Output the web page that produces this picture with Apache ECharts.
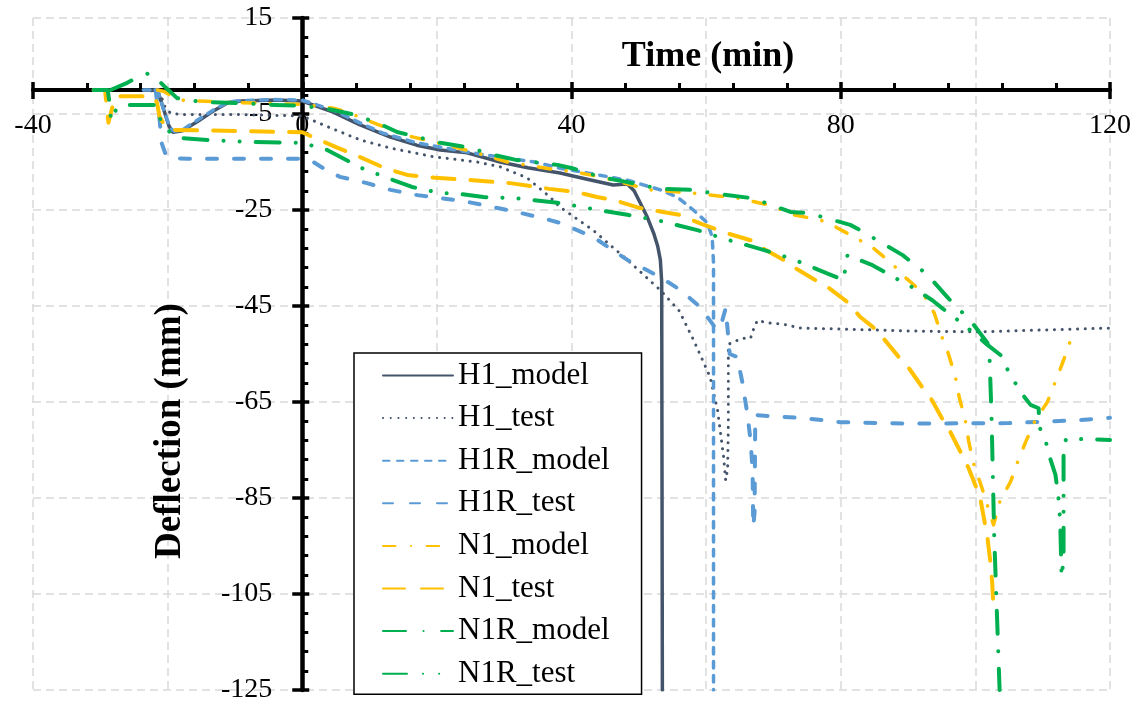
<!DOCTYPE html>
<html>
<head>
<meta charset="utf-8">
<script src="https://cdn.jsdelivr.net/npm/echarts@6/dist/echarts.min.js"></script>
<style>
  html, body { margin: 0; padding: 0; background: #fff; }
  #chart { width: 1145px; height: 705px; }
</style>
</head>
<body>
<div id="chart"></div>
<script>
// Deflection histories (time in min, deflection in mm)
const h1Model = [[-23.6,0],[-21.5,0],[-20.6,-4],[-19.8,-7.5],[-19.2,-8.8],[-17.8,-8.5],[-15.5,-6.5],[-13,-4.2],[-11,-2.6],[-9,-2.3],[-4,-2.1],[0,-2.3],[4.6,-4.6],[8.5,-7.2],[13.1,-9.8],[17,-11.5],[20.5,-12.5],[24.5,-13.1],[29.4,-15],[33.5,-16.2],[38.3,-17.3],[42,-18.5],[46.2,-19.8],[48.3,-19.6],[49.3,-21],[50.2,-23.5],[51.2,-26.3],[52.2,-29.8],[52.8,-32.5],[53.2,-35.4],[53.4,-40],[53.5,-125]];
const h1Test = [[-23.6,0],[-21.5,-0.3],[-20.8,-1.9],[-20.4,-3.5],[-19.6,-4.8],[-18,-5.1],[-10,-5.1],[0,-5.4],[4.2,-7.9],[8.6,-10.4],[13.1,-12.1],[19.5,-13.9],[26,-15],[29.4,-16],[33.4,-18.3],[36.8,-22.3],[38.3,-24.4],[43.2,-29.2],[48.3,-35.4],[53.2,-41.7],[56,-46],[58.1,-52],[60.6,-59.8],[61.7,-66.7],[62.6,-76.5],[62.9,-81.3],[63.2,-79],[63.3,-70],[63.3,-53],[64,-52.5],[65.5,-51.7],[66.6,-51.7],[67,-50],[67.6,-48],[69.1,-48.5],[71.5,-48.8],[74,-49.6],[80,-49.8],[90,-50.2],[100,-50.4],[110,-50],[120,-49.6]];
const h1rModel = [[-23.6,0],[-21.5,0],[-20.5,-4.5],[-19.6,-8],[-19,-8.6],[-17.8,-8.3],[-15.5,-6.2],[-13,-4],[-11,-2.5],[-9,-2.2],[-4,-2],[0,-2.1],[4.6,-4.2],[8.5,-6.8],[12,-9],[17,-11],[22,-12.3],[27,-13.5],[30.5,-14.2],[34.5,-15],[38.3,-16.3],[43.2,-17.5],[48.3,-18.8],[53.2,-20.8],[55.7,-22.3],[58.1,-25],[60.2,-27.7],[60.9,-30.6],[61.1,-36],[61.1,-125]];
const h1rTest = [[-21.8,0],[-21.2,-6],[-20.9,-11],[-20.3,-13.4],[-19.5,-14.2],[-17,-14.3],[0,-14.3],[1.2,-14.6],[3,-16.2],[5.6,-18.1],[9.6,-19.4],[13.1,-20.8],[17.1,-21.9],[20.5,-22.5],[24.5,-23.3],[28.4,-24.4],[32.4,-25.6],[36.8,-27.1],[38.3,-27.7],[43.2,-30.6],[48.3,-35.4],[53.2,-39],[56.2,-41.7],[59.1,-45.2],[61.6,-50],[62.3,-48.5],[62.9,-45.5],[63.2,-50],[63.5,-55],[64.6,-55.6],[65.4,-61],[66.1,-67.3],[66.6,-72.9],[66.9,-79.2],[67,-91],[67.2,-88],[67.3,-67.7],[70,-68],[74,-68.3],[80,-69.2],[90,-69.5],[105,-69.4],[115,-68.8],[120,-68.3]];
const n1Model = [[-21.5,0],[-20.5,-0.3],[-19.2,-1.5],[-17.5,-2.2],[-12,-2.5],[-5,-2.8],[0,-3],[4.6,-3.8],[6.7,-4.6],[10,-6.5],[15.3,-9.4],[21.5,-11.5],[25.4,-12.9],[30.5,-15],[37.9,-16.7],[39.8,-16.9],[44.3,-18.1],[51.7,-20.8],[58.1,-21.5],[64.6,-22.5],[69.5,-24],[73,-26],[77,-27.1],[79.2,-28.5],[82.2,-30.8],[84.8,-32.9],[87.5,-36],[89.7,-39.2],[92.1,-42.1],[93.9,-46.5],[95.1,-51.7],[96,-55],[97,-59.6],[97.6,-64],[98.5,-68.8],[99,-73.1],[99.7,-77.7],[101,-83],[102,-87.5],[102.7,-90.6],[103.7,-85.4],[105.2,-81.7],[106.4,-77],[107.6,-72.9],[108.9,-68.8],[110.7,-65],[112,-60.4],[113.1,-56.3],[114.3,-51.5]];
const n1Test = [[-31,0],[-29.3,0],[-28.8,-6.8],[-28.2,-3.5],[-27.6,-1.3],[-22.3,-1.3],[-21.6,-2.5],[-21.2,-5.5],[-20.4,-7.5],[-19.5,-8.3],[-15,-8.4],[-8,-8.6],[0,-8.8],[1.9,-10],[5.2,-12],[8.6,-14],[12.3,-16.3],[15.6,-17.7],[19.8,-18.3],[25.3,-18.8],[30.9,-19.4],[36.7,-20.6],[40.9,-21.3],[43.8,-22.3],[46.2,-22.9],[50.2,-24.6],[56,-26],[59.5,-28],[63,-29.8],[66.6,-31.3],[68.8,-33.3],[71.5,-35.4],[73,-36.9],[76.2,-39.6],[78,-41],[81,-44.2],[82.9,-47.3],[84.8,-49.4],[86.2,-51.5],[88.6,-55.6],[90,-57.7],[92.1,-61.9],[93.3,-64],[95.2,-68.8],[96.3,-71.3],[98.2,-76.5],[99,-78.8],[100.7,-84.8],[101.8,-93.3],[102.2,-98],[102.5,-102.7],[102.7,-108.3]];
const n1rModel = [[-28.5,0],[-26,1.5],[-24,3],[-22.7,3.5],[-21.9,2.8],[-21,1.5],[-20.2,0.4],[-18.6,-1.7],[-15,-2.5],[-10,-2.7],[-4,-3.1],[0,-3.3],[4,-4],[7.9,-5.2],[11.9,-7.3],[14.1,-8.75],[16,-9.4],[20.5,-11],[22.7,-11.5],[25,-12.1],[28.4,-13.5],[31.9,-14.6],[37.9,-15.6],[40.1,-16.3],[44.3,-18.1],[48.3,-19.2],[53.2,-20.6],[57.7,-20.8],[62.1,-21.7],[66.6,-22.5],[68.8,-23.5],[72.5,-25.4],[75,-25.6],[77.4,-26.5],[81.4,-28.1],[83.4,-29.6],[85.4,-31.3],[89.2,-34.4],[91.1,-36.5],[92.9,-38.5],[95.8,-43.1],[97.3,-45.4],[99,-47.5],[101.8,-52.7],[102.1,-55.4],[102.4,-67.9],[102.8,-93.1],[103.6,-125]];
const n1rTest = [[-31,0],[-28.9,0],[-28.6,-3],[-28.4,-6.4],[-27.7,-4.2],[-26.5,-3.1],[-22,-3.1],[-21.3,-4.5],[-21,-6.9],[-19.5,-9],[-18,-10],[-13,-10.5],[-8,-10.8],[0,-11],[3.7,-12.5],[7.1,-15],[8.9,-16.3],[12.6,-18.3],[16.3,-20.2],[18.3,-20.8],[20.5,-21.5],[22.7,-21.5],[26.9,-22.3],[31.4,-22.5],[37.9,-23.5],[40.1,-24],[42.3,-24.6],[48.3,-26],[52.7,-27.1],[58.7,-29.2],[62.7,-31],[68.5,-33.3],[72.8,-35.2],[78.5,-38.5],[80.4,-39.6],[80.7,-37.1],[81,-34.4],[84.7,-36.5],[86.5,-37.9],[88.4,-39.4],[90.3,-40.8],[93.6,-43.8],[95.2,-45.6],[97,-47.5],[99.2,-50],[101.8,-53.1],[103.9,-55.4],[104.8,-58.3],[106.7,-62.9],[108.2,-65.6],[109.4,-66.3],[109.5,-70.2],[110.4,-72.9],[111.1,-76.7],[111.9,-80.2],[112.3,-84.4],[112.6,-89.6],[112.8,-101.5],[113.1,-97.9],[113.1,-74],[113.5,-72.7],[114.9,-72.7],[120,-72.9]];

const seriesNames = ['H1_model','H1_test','H1R_model','H1R_test','N1_model','N1_test','N1R_model','N1R_test'];
const xRange = [-40, 120];
const yRange = [-125, 15];

// plot rectangle in pixels; the axes cross at (0, 0)
const GRID = { left: 33, top: 18, width: 1077, height: 672 };
const xZeroShift = -(0 - xRange[0]) / (xRange[1] - xRange[0]) * GRID.width;   // move y axis from left edge to t = 0
const yZeroShift = -(0 - yRange[0]) / (yRange[1] - yRange[0]) * GRID.height;  // move x axis from bottom edge to d = 0

const SERIF = '"Liberation Serif", "Times New Roman", serif';
const DARK = '#44546A', BLUE = '#5B9BD5', GOLD = '#FFC000', GREEN = '#00B050';

function lineSeries(name, data, color, width, type) {
  return {
    name, type: 'line', data,
    symbol: 'none', showSymbol: false, clip: true, silent: true,
    lineStyle: { color, width, type, cap: 'round', join: 'round' },
    itemStyle: { color },
    emphasis: { disabled: true }
  };
}

const axisText = { fontFamily: SERIF, fontSize: 28, color: '#000' };
const gridDash = { color: '#d9d9d9', width: 1.5, type: [8, 5] };

const chart = echarts.init(document.getElementById('chart'), null, { renderer: 'canvas' });
chart.setOption({
  animation: false,
  backgroundColor: '#fff',
  grid: { left: GRID.left, top: GRID.top, width: GRID.width, height: GRID.height,
          containLabel: false, outerBoundsMode: 'none' },
  xAxis: [
    { // main axis: line, labels, inward ticks
      type: 'value', min: xRange[0], max: xRange[1], interval: 40, position: 'bottom', offset: yZeroShift,
      axisLine: { onZero: false, lineStyle: { color: '#000', width: 4 } },
      axisTick: { show: true, inside: true, length: 8, lineStyle: { color: '#000', width: 3.5 } },
      minorTick: { show: true, splitNumber: 5, length: 7, lineStyle: { color: '#000', width: 3 } },
      axisLabel: Object.assign({ margin: 22, hideOverlap: false }, axisText),
      splitLine: { show: false }
    },
    { // outward half of the major ticks
      type: 'value', min: xRange[0], max: xRange[1], interval: 40, position: 'bottom', offset: yZeroShift,
      axisLine: { show: false, onZero: false },
      axisTick: { show: true, inside: false, length: 9, lineStyle: { color: '#000', width: 3.5 } },
      axisLabel: { show: false }, splitLine: { show: false }
    },
    { // vertical grid every 20 min
      type: 'value', min: xRange[0], max: xRange[1], interval: 20, position: 'bottom',
      axisLine: { show: false, onZero: false }, axisTick: { show: false }, axisLabel: { show: false },
      splitLine: { show: true, lineStyle: gridDash }
    }
  ],
  yAxis: [
    {
      type: 'value', min: yRange[0], max: yRange[1], interval: 20, position: 'left', offset: xZeroShift,
      axisLine: { onZero: false, lineStyle: { color: '#000', width: 4.5 } },
      axisTick: { show: true, inside: true, length: 7, lineStyle: { color: '#000', width: 3.5 } },
      minorTick: { show: true, splitNumber: 5, length: 6, lineStyle: { color: '#000', width: 3 } },
      axisLabel: Object.assign({ margin: 30, hideOverlap: false }, axisText),
      splitLine: { show: true, lineStyle: gridDash }
    },
    {
      type: 'value', min: yRange[0], max: yRange[1], interval: 20, position: 'left', offset: xZeroShift,
      axisLine: { show: false, onZero: false },
      axisTick: { show: true, inside: false, length: 10, lineStyle: { color: '#000', width: 3.5 } },
      axisLabel: { show: false }, splitLine: { show: false }
    }
  ],
  legend: {
    data: seriesNames,
    orient: 'vertical', left: 354, top: 353,
    padding: [7, 32, 5, 28], itemGap: 11.6,
    itemWidth: 70, itemHeight: 14,
    backgroundColor: '#fff', borderColor: '#000', borderWidth: 1.5, borderRadius: 0,
    itemStyle: { color: 'rgba(0,0,0,0)', borderWidth: 0, opacity: 0 },
    textStyle: { fontFamily: SERIF, fontSize: 31, color: '#000', lineHeight: 30 },
    selectedMode: false
  },
  graphic: [
    { type: 'text', x: 708, y: 57, z: 10,
      style: { text: 'Time (min)', font: 'bold 36px ' + SERIF, fill: '#000',
               align: 'center', verticalAlign: 'middle', textAlign: 'center', textVerticalAlign: 'middle' } },
    { type: 'text', x: 170, y: 431, rotation: Math.PI / 2, z: 10,
      style: { text: 'Deflection (mm)', font: 'bold 37px ' + SERIF, fill: '#000',
               align: 'center', verticalAlign: 'middle', textAlign: 'center', textVerticalAlign: 'middle' } }
  ],
  series: [
    lineSeries('H1_model', h1Model, DARK, 3.5, 'solid'),
    lineSeries('H1_test', h1Test, DARK, 3, [0.1, 7.6]),
    lineSeries('H1R_model', h1rModel, BLUE, 3.5, [6.5, 7.5]),
    lineSeries('H1R_test', h1rTest, BLUE, 4, [10, 17]),
    lineSeries('N1_model', n1Model, GOLD, 3.5, [12.5, 15.5, 0.1, 15.5]),
    lineSeries('N1_test', n1Test, GOLD, 4, [22, 16]),
    lineSeries('N1R_model', n1rModel, GREEN, 4, [23, 17.5, 0.1, 17.5]),
    lineSeries('N1R_test', n1rTest, GREEN, 4, [24, 16, 0.1, 16, 0.1, 16])
  ]
});
</script>
</body>
</html>
